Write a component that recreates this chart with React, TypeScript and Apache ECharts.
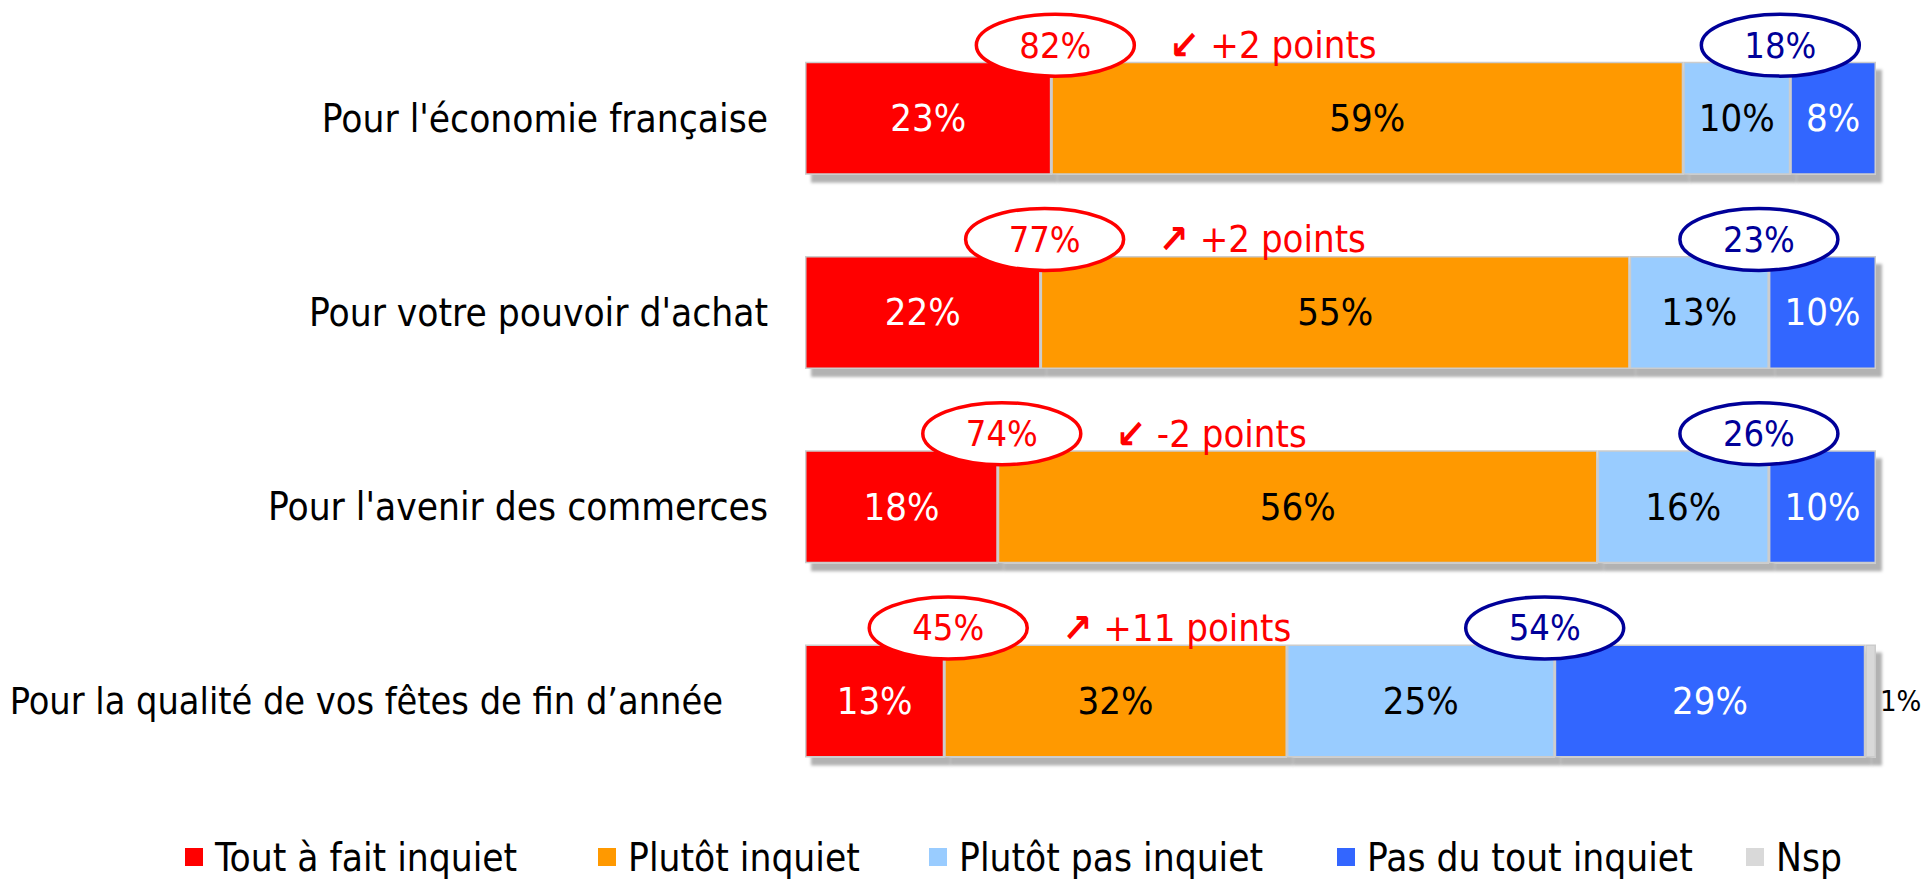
import React, { useEffect, useRef } from "react";
import * as echarts from "echarts";

const categories = [
  "Pour l'économie française",
  "Pour votre pouvoir d'achat",
  "Pour l'avenir des commerces",
  "Pour la qualité de vos fêtes de fin d’année",
];
const seriesNames = ["Tout à fait inquiet", "Plutôt inquiet", "Plutôt pas inquiet", "Pas du tout inquiet", "Nsp"];
const toutAFait = [23, 22, 18, 13];
const plutotInquiet = [59, 55, 56, 32];
const plutotPas = [10, 13, 16, 25];
const pasDuTout = [8, 10, 10, 29];
const nsp = [0, 0, 0, 1];
const totalInquiet = [82, 77, 74, 45];
const totalPasInquiet = [18, 23, 26, 54];
const evolutionArrows = ["↙", "↗", "↙", "↗"];
const evolutionTexts = ["+2 points", "+2 points", "-2 points", "+11 points"];

const FONT = "'DejaVu Sans Condensed', 'DejaVu Sans', sans-serif";
const colors = ["#FF0000", "#FF9900", "#99CCFF", "#3366FF", "#D9D9D9"];
const labelColors = ["#FFFFFF", "#000000", "#000000", "#FFFFFF", "#000000"];
const legendLefts = [185, 598, 929, 1337, 1746];

export default function App() {
  const ref = useRef<HTMLDivElement>(null);
  useEffect(() => {
    if (!ref.current) return;
    const chart = echarts.init(ref.current, null, { renderer: "svg" });
    const values = [toutAFait, plutotInquiet, plutotPas, pasDuTout, nsp];
    const barSeries = values.map((arr, k) => ({
      name: seriesNames[k],
      type: "bar",
      stack: "total",
      barWidth: 113,
      data: arr.map((v) => (v === 0 ? "-" : v)),
      itemStyle: {
        color: colors[k],
        borderColor: "#cccccc",
        borderWidth: 1.5,
        shadowColor: "rgba(0,0,0,0.3)",
        shadowOffsetX: 6,
        shadowOffsetY: 8,
        shadowBlur: 3,
      },
      label: {
        show: true,
        position: k === 4 ? "right" : "inside",
        distance: 4,
        formatter: (p: any) => (p.value ? p.value + "%" : ""),
        color: labelColors[k],
        fontSize: k === 4 ? 29 : 38,
        fontFamily: FONT,
      },
      z: 2,
    }));

    const annotations = {
      type: "custom",
      name: "annotations",
      z: 10,
      silent: true,
      data: categories.map((_, i) => [0, i]),
      renderItem: (params: any, api: any) => {
        const i = params.dataIndex;
        const red = api.coord([toutAFait[i], i]);
        const blue = api.coord([toutAFait[i] + plutotInquiet[i] + plutotPas[i], i]);
        const cy = red[1] - 73;
        const bx = blue[0] - 10;
        return {
          type: "group",
          children: [
            {
              type: "ellipse",
              shape: { cx: red[0] + 4, cy, rx: 79, ry: 31 },
              style: { fill: "#ffffff", stroke: "#FF0000", lineWidth: 3.5 },
            },
            {
              type: "text",
              x: red[0] + 4,
              y: cy,
              style: {
                text: totalInquiet[i] + "%",
                fill: "#FF0000",
                fontSize: 36,
                fontFamily: FONT,
                align: "center",
                verticalAlign: "middle",
              },
            },
            {
              type: "text",
              x: red[0] + 118,
              y: cy,
              style: {
                text: "{a|" + evolutionArrows[i] + "} " + evolutionTexts[i],
                fill: "#FF0000",
                fontSize: 38,
                fontFamily: FONT,
                align: "left",
                verticalAlign: "middle",
                rich: {
                  a: { fontSize: 40, fontWeight: "bold", fill: "#FF0000", fontFamily: FONT },
                },
              },
            },
            {
              type: "ellipse",
              shape: { cx: bx, cy, rx: 79, ry: 31 },
              style: { fill: "#ffffff", stroke: "#000099", lineWidth: 3.5 },
            },
            {
              type: "text",
              x: bx,
              y: cy,
              style: {
                text: totalPasInquiet[i] + "%",
                fill: "#000099",
                fontSize: 36,
                fontFamily: FONT,
                align: "center",
                verticalAlign: "middle",
              },
            },
          ],
        };
      },
    };

    const legends = seriesNames.map((n, k) => ({
      data: [n],
      left: legendLefts[k],
      top: 835,
      padding: 0,
      itemWidth: 18,
      itemHeight: 18,
      icon: "rect",
      itemStyle: { shadowBlur: 0, shadowOffsetX: 0, shadowOffsetY: 0, shadowColor: "transparent", borderWidth: 0 },
      textStyle: { fontSize: 38.5, lineHeight: 44, color: "#000000", fontFamily: FONT, padding: [0, 0, 0, 7] },
    }));

    chart.setOption({
      animation: false,
      backgroundColor: "#ffffff",
      grid: { left: 805, right: 51, top: 21, bottom: 82, outerBoundsMode: "none", containLabel: false },
      xAxis: { type: "value", min: 0, max: 100, show: false },
      yAxis: {
        type: "category",
        data: categories,
        inverse: true,
        axisLine: { show: false },
        axisTick: { show: false },
        splitLine: { show: false },
        axisLabel: {
          margin: 37,
          color: "#000000",
          fontSize: 38.5,
          fontFamily: FONT,
          formatter: (v: string, idx: number) => (idx === 3 ? "{long|" + v + "}" : v),
          rich: {
            long: { fontSize: 37.5, fontFamily: FONT, color: "#000000", padding: [0, 45, 0, 0] },
          },
        },
      },
      legend: legends,
      series: [...barSeries, annotations],
    });
    return () => chart.dispose();
  }, []);
  return (
    <div
      ref={ref}
      style={{ position: "absolute", left: 0, top: 0, width: 1927, height: 880 }}
    />
  );
}
